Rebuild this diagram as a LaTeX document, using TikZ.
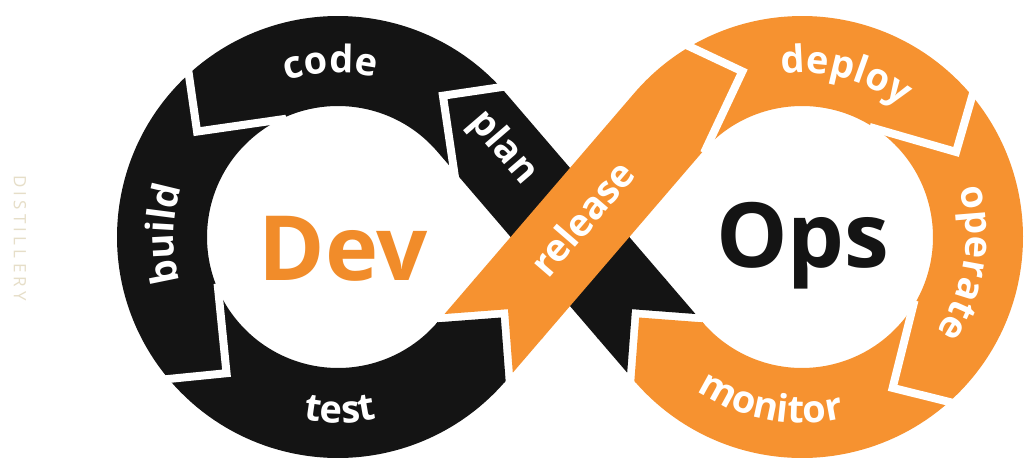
\documentclass[tikz,border=0pt]{standalone}
\usepackage{fontspec}
\setmainfont{Open Sans}
\usetikzlibrary{calc,decorations.text}
\definecolor{dvo}{RGB}{246,146,48}
\definecolor{dvk}{RGB}{20,20,20}
\definecolor{dvdev}{RGB}{241,140,42}
\definecolor{wmk}{RGB}{230,222,200}
\newcommand{\lblfont}{\fontsize{38}{40}\selectfont\bfseries}
\newcommand{\gapv}[4]{%
  \draw[gapline] ($(#1)+(#2:\Rr)+(#3:80)$) -- ($(#1)+(#2:\Rr)$) -- ($(#1)+(#2:\Rr)+(#4:90)$);}
\begin{document}
\begin{tikzpicture}[x=1pt,y=-1pt,
  band/.style={line width=90pt},
  gapline/.style={white, line width=8pt, line join=miter},
  lbl/.style={text=white, font=\lblfont, inner sep=0pt},
  arclbl/.style={decorate, decoration={text along path, text={|\lblfont|#1}, text align=center, text color=white}}]
\pgfmathsetmacro\Rr{176}
\pgfmathsetmacro\hw{45}
\pgfmathsetmacro\alp{asin(176/232)}
\useasboundingbox (0,0) rectangle (1026,459);
\fill[white] (0,0) rectangle (1026,459);

\coordinate (CL) at (338,237);
\coordinate (CR) at (802,237);
\coordinate (M) at (570,237);
\coordinate (TLA) at ($(CL)+(\alp-90:\Rr)$);
\coordinate (TLB) at ($(CL)+(90-\alp:\Rr)$);
\coordinate (TRA) at ($(CR)+(90+\alp:\Rr)$);
\coordinate (TRB) at ($(CR)+(-90-\alp:\Rr)$);
% test head / release tail on line B
\coordinate (PT) at ($(TLB)+(-\alp:\hw)$);
\coordinate (QR) at ($(PT)+(-\alp:11)$);
% monitor head / plan tail on line A
\coordinate (PM) at ($(TRA)+(180+\alp:\hw)$);
\coordinate (QP) at ($(PM)+(180+\alp:11)$);

% ---------- black loop (plan, code, build, test)
\draw[band, dvk] (QP) -- (TLA) arc[start angle=\alp-90, end angle=-270-\alp, radius=\Rr];
\fill[dvk] ($(TLB)+(90-\alp:\hw)+(180-\alp:2)$) -- ($(TLB)+(90-\alp:\hw)$) -- (PT)
  -- ($(TLB)+(-90-\alp:\hw)$) -- ($(TLB)+(-90-\alp:\hw)+(180-\alp:2)$) -- cycle;
\fill[dvk] ($(QP)+(180+\alp:2)$) -- ($(QP)+(180+\alp:2)+(\alp+90:\hw)$)
  -- ($(QP)+(\alp+90:\hw)+(\alp:\hw)$) -- (QP) -- cycle;
\fill[dvk] ($(QP)+(180+\alp:2)$) -- ($(QP)+(180+\alp:2)+(\alp-90:\hw)$)
  -- ($(QP)+(\alp-90:\hw)+(\alp:\hw)$) -- (QP) -- cycle;
\gapv{CL}{-53.4}{-8.4}{81.6}
\gapv{CL}{-143.2}{-98.2}{-8.2}
\gapv{CL}{-230.7}{-185.7}{-95.7}

% ---------- orange loop (release, deploy, operate, monitor)
\draw[band, dvo] (QR) -- (TRB) arc[start angle=-90-\alp, end angle=90+\alp, radius=\Rr];
\fill[dvo] ($(TRA)+(\alp+90:\hw)+(\alp:2)$) -- ($(TRA)+(\alp+90:\hw)$) -- (PM)
  -- ($(TRA)+(\alp-90:\hw)$) -- ($(TRA)+(\alp-90:\hw)+(\alp:2)$) -- cycle;
\fill[dvo] ($(QR)+(-\alp:2)$) -- ($(QR)+(-\alp:2)+(90-\alp:\hw)$)
  -- ($(QR)+(90-\alp:\hw)+(180-\alp:\hw)$) -- (QR) -- cycle;
\fill[dvo] ($(QR)+(-\alp:2)$) -- ($(QR)+(-\alp:2)+(-90-\alp:\hw)$)
  -- ($(QR)+(-90-\alp:\hw)+(180-\alp:\hw)$) -- (QR) -- cycle;
\gapv{CR}{-109.8}{-154.8}{-244.8}
\gapv{CR}{-28.9}{-73.9}{-163.9}
\gapv{CR}{59}{14}{-76}

% ---------- labels
\path[arclbl=code] ($(CL)+(-135:164)$) arc[start angle=-135, end angle=-50, radius=164];
\path[arclbl=build] ($(CL)+(140:164)$) arc[start angle=140, end angle=222, radius=164];
\path[arclbl=test] ($(CL)+(135:186)$) arc[start angle=135, end angle=43.6, radius=186];
\path[arclbl=deploy] ($(CR)+(-120:164)$) arc[start angle=-120, end angle=-29.6, radius=164];
\path[arclbl=operate] ($(CR)+(-36:164)$) arc[start angle=-36, end angle=54, radius=164];
\path[arclbl=monitor] ($(CR)+(146:186)$) arc[start angle=146, end angle=55.4, radius=186];
\node[lbl, rotate=-49.3] (plan) at (503,148) {plan};
\node[lbl, rotate=49.3] (release) at (582,218) {release};

\node[font=\fontsize{90}{90}\selectfont\bfseries, text=dvdev, anchor=base, inner sep=0pt] (dev) at (343,280) {Dev};
\node[font=\fontsize{90}{90}\selectfont\bfseries, text=dvk, anchor=base, inner sep=0pt] (ops) at (803,267) {Ops};

\node[rotate=-90, text=wmk, inner sep=0pt, font=\fontsize{17}{17}\selectfont\addfontfeatures{LetterSpace=25}] (wm) at (20,238) {DISTILLERY};
\end{tikzpicture}
\end{document}
